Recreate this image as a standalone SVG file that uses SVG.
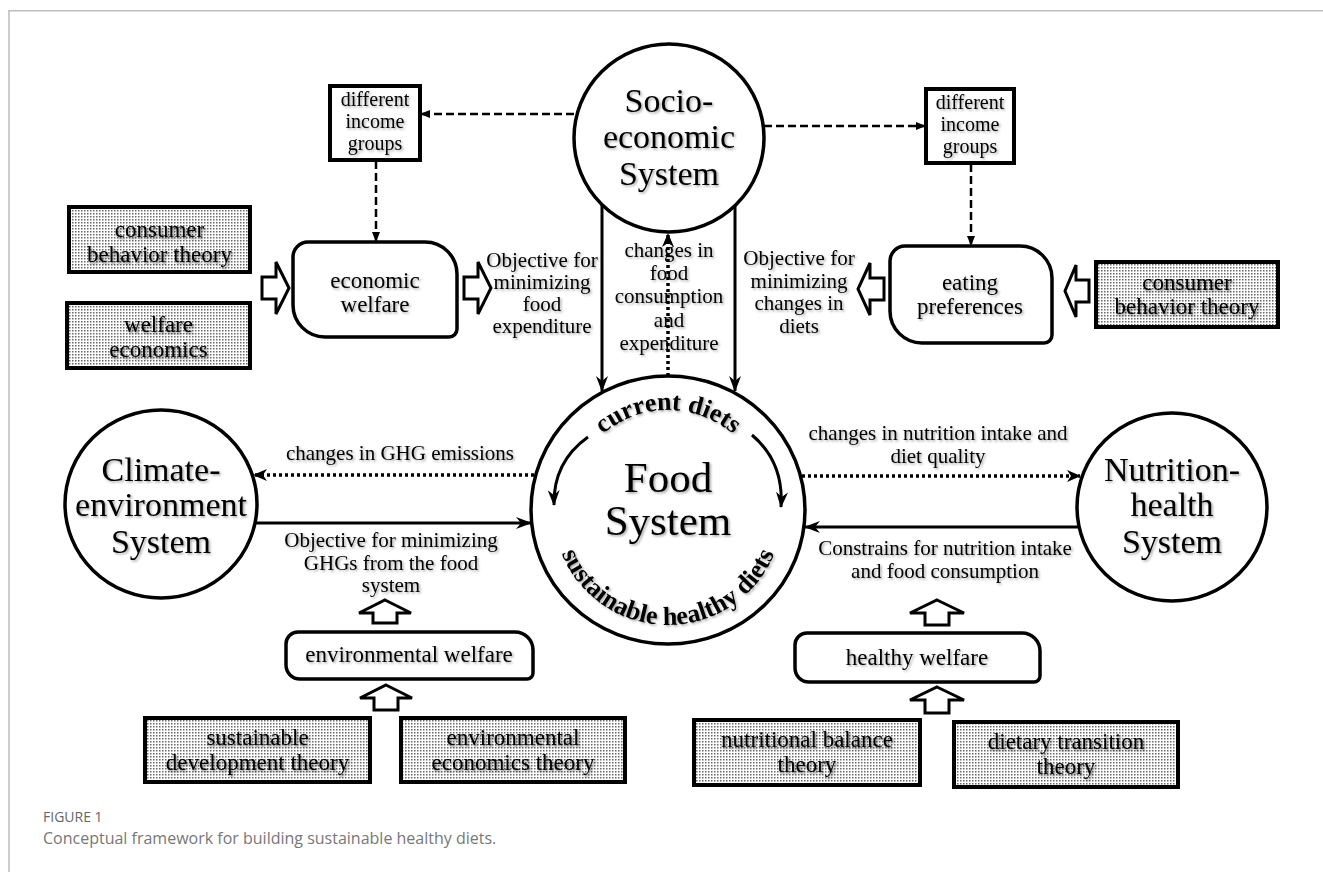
<svg xmlns="http://www.w3.org/2000/svg" width="1323" height="872" viewBox="0 0 1323 872">
<style>
.t{font-family:"Liberation Serif","Times New Roman",serif;fill:#000;text-anchor:middle;filter:url(#sh)}
.ts{font-family:"Liberation Serif","Times New Roman",serif;fill:#000;text-anchor:middle;filter:url(#sh2)}
.f20{font-size:20px}.f21{font-size:21px}.f23{font-size:23px}.f34{font-size:34px}.f43{font-size:43px}
.arc{font-family:"Liberation Serif","Times New Roman",serif;font-size:26px;font-weight:bold;fill:#000;text-anchor:middle;filter:url(#sh)}
.circ{fill:#fff;stroke:#000;stroke-width:3.5}
.box{fill:#fff;stroke:#000;stroke-width:3.5}
.shade{fill:url(#dots);stroke:#000;stroke-width:4}
.hol{fill:#fff;stroke:#000;stroke-width:3;stroke-linejoin:miter}
.solid{fill:none;stroke:#000;stroke-width:3;marker-end:url(#ah)}
.dash{fill:none;stroke:#000;stroke-width:2.5;stroke-dasharray:8 4;marker-end:url(#ahd)}
.dot{fill:none;stroke:#000;stroke-width:3.5;stroke-dasharray:3 3;marker-end:url(#aho)}
.cap{font-family:"Open Sans","Noto Sans",sans-serif}
</style>
<defs>
<pattern id="dots" width="3" height="3" patternUnits="userSpaceOnUse"><rect width="3" height="3" fill="#fff"/><rect width="1.5" height="1.5" fill="#666"/></pattern>
<filter id="sh" x="-10%" y="-20%" width="130%" height="150%"><feDropShadow dx="1.5" dy="1.5" stdDeviation="1.2" flood-color="#000" flood-opacity="0.35"/></filter>
<filter id="sh2" x="-10%" y="-20%" width="130%" height="150%"><feDropShadow dx="1.5" dy="2" stdDeviation="1.3" flood-color="#000" flood-opacity="0.55"/></filter>
<marker id="ah" markerWidth="16" markerHeight="12" refX="15" refY="6" orient="auto" markerUnits="userSpaceOnUse"><path d="M0,0 L16,6 L0,12 L5,6 z" fill="#000"/></marker>
<marker id="ahd" markerWidth="10" markerHeight="8" refX="9" refY="4" orient="auto" markerUnits="userSpaceOnUse"><path d="M0,0 L10,4 L0,8 z" fill="#000"/></marker>
<marker id="aho" markerWidth="14" markerHeight="12" refX="13" refY="6" orient="auto" markerUnits="userSpaceOnUse"><path d="M0,0 L14,6 L0,12 L4,6 z" fill="#000"/></marker>
<path id="topArc" d="M568,510 A100,100 0 0 1 768,510"/>
<path id="botArc" d="M553,510 A115,115 0 0 0 783,510"/>
</defs>
<rect width="1323" height="872" fill="#fff"/>
<path d="M9,872 V10.7 H1323" fill="none" stroke="#bdbdbd" stroke-width="1.5"/>

<g id="connectors">
<path class="dash" d="M574,114 L421,114"/>
<path class="dash" d="M764,126 L925,126"/>
<path class="dash" d="M376,161 L376,241"/>
<path class="dash" d="M971,164 L971,245"/>
<path class="solid" d="M602,205 L602,391"/>
<path class="solid" d="M735,205 L735,391"/>
<path class="dot" d="M668,376 L668,234"/>
<path class="dot" d="M534,475 L254,475"/>
<path class="solid" d="M255,523 L531,523"/>
<path class="dot" d="M802,476 L1080,476"/>
<path class="solid" d="M1079,527 L805,527"/>
<path class="hol" d="M262,277 L276,277 L276,262 L289,288 L276,314 L276,299 L262,299 Z"/>
<path class="hol" d="M464,277 L478,277 L478,262 L491,288 L478,314 L478,299 L464,299 Z"/>
<path class="hol" d="M884,278 L870,278 L870,263 L858,289 L870,315 L870,300 L884,300 Z"/>
<path class="hol" d="M1089,280 L1076,280 L1076,265 L1065,291 L1076,317 L1076,302 L1089,302 Z"/>
<path class="hol" d="M385,600 L411,613 L397,613 L397,623 L373,623 L373,613 L359,613 Z"/>
<path class="hol" d="M386,685 L412,698 L398,698 L398,710 L374,710 L374,698 L360,698 Z"/>
<path class="hol" d="M937,600 L964,613 L949,613 L949,625 L925,625 L925,613 L910,613 Z"/>
<path class="hol" d="M937,687 L964,700 L949,700 L949,713 L925,713 L925,700 L910,700 Z"/>
</g>
<g id="edge-labels">
<text class="t f21"><tspan x="542" y="267">Objective for</tspan><tspan x="542" y="289">minimizing</tspan><tspan x="542" y="311">food</tspan><tspan x="542" y="333">expenditure</tspan></text>
<text class="t f21"><tspan x="669" y="257">changes in</tspan><tspan x="669" y="280">food</tspan><tspan x="669" y="303">consumption</tspan><tspan x="669" y="327">and</tspan><tspan x="669" y="350">expenditure</tspan></text>
<text class="t f21"><tspan x="799" y="265">Objective for</tspan><tspan x="799" y="288">minimizing</tspan><tspan x="799" y="310">changes in</tspan><tspan x="799" y="333">diets</tspan></text>
<text class="t f21" x="400" y="460">changes in GHG emissions</text>
<text class="t f21"><tspan x="391" y="547">Objective for minimizing</tspan><tspan x="391" y="570">GHGs from the food</tspan><tspan x="391" y="592">system</tspan></text>
<text class="t f21"><tspan x="938" y="440">changes in nutrition intake and</tspan><tspan x="938" y="463">diet quality</tspan></text>
<text class="t f21"><tspan x="945" y="555">Constrains for nutrition intake</tspan><tspan x="945" y="578">and food consumption</tspan></text>
</g>

<g id="socio">
<ellipse class="circ" cx="669" cy="138" rx="95" ry="94"/>
<text class="t f34"><tspan x="669" y="112">Socio-</tspan><tspan x="669" y="148">economic</tspan><tspan x="669" y="185">System</tspan></text>
</g>
<g id="income-left">
<rect x="330" y="86" width="90" height="74" fill="#fff" stroke="#000" stroke-width="4"/>
<text class="t f20"><tspan x="375" y="106">different</tspan><tspan x="375" y="128">income</tspan><tspan x="375" y="150">groups</tspan></text>
</g>
<g id="income-right">
<rect x="926" y="89" width="88" height="74" fill="#fff" stroke="#000" stroke-width="4"/>
<text class="t f20"><tspan x="970" y="109">different</tspan><tspan x="970" y="131">income</tspan><tspan x="970" y="153">groups</tspan></text>
</g>
<g id="consumer-left">
<rect class="shade" x="69" y="207" width="181" height="65"/>
<text class="ts f23"><tspan x="159.5" y="237">consumer</tspan><tspan x="159.5" y="262">behavior theory</tspan></text>
</g>
<g id="welfare-economics">
<rect class="shade" x="67" y="303" width="183" height="65"/>
<text class="ts f23"><tspan x="158.5" y="332">welfare</tspan><tspan x="158.5" y="357">economics</tspan></text>
</g>
<g id="economic-welfare">
<path class="box" d="M308,242 H425 A32,32 0 0 1 457,274 V329 A8,8 0 0 1 449,337 H325 A32,32 0 0 1 293,305 V257 A15,15 0 0 1 308,242 Z"/>
<text class="t f23"><tspan x="375" y="288">economic</tspan><tspan x="375" y="312">welfare</tspan></text>
</g>
<g id="eating-preferences">
<path class="box" d="M905,246 H1020 A32,32 0 0 1 1052,278 V335 A8,8 0 0 1 1044,343 H922 A32,32 0 0 1 890,311 V261 A15,15 0 0 1 905,246 Z"/>
<text class="t f23"><tspan x="970" y="290">eating</tspan><tspan x="970" y="314">preferences</tspan></text>
</g>
<g id="consumer-right">
<rect class="shade" x="1096" y="262" width="182" height="65"/>
<text class="ts f23"><tspan x="1187" y="290">consumer</tspan><tspan x="1187" y="314">behavior theory</tspan></text>
</g>
<g id="food-system">
<ellipse class="circ" cx="668" cy="510" rx="137" ry="134"/>
<text class="t f43"><tspan x="668" y="492">Food</tspan><tspan x="668" y="535">System</tspan></text>
<text class="arc"><textPath href="#topArc" startOffset="50%">current diets</textPath></text>
<text class="arc"><textPath href="#botArc" startOffset="50%">sustainable healthy diets</textPath></text>
<path class="solid" d="M588,437 Q553,462 554,505"/>
<path class="solid" d="M752,435 Q784,462 781,507"/>
</g>
<g id="climate">
<ellipse class="circ" cx="161" cy="504" rx="96" ry="94"/>
<text class="t f34"><tspan x="161" y="481">Climate-</tspan><tspan x="161" y="516">environment</tspan><tspan x="161" y="553">System</tspan></text>
</g>
<g id="nutrition">
<ellipse class="circ" cx="1172" cy="507" rx="95" ry="94"/>
<text class="t f34"><tspan x="1172" y="481">Nutrition-</tspan><tspan x="1172" y="516">health</tspan><tspan x="1172" y="553">System</tspan></text>
</g>
<g id="environmental-welfare">
<path class="box" d="M298,632 H515 A18,18 0 0 1 533,650 V673 A6,6 0 0 1 527,679 H300 A14,14 0 0 1 286,665 V644 A12,12 0 0 1 298,632 Z"/>
<text class="t f23" x="409" y="662">environmental welfare</text>
</g>
<g id="healthy-welfare">
<path class="box" d="M807,633 H1022 A18,18 0 0 1 1040,651 V676 A6,6 0 0 1 1034,682 H809 A14,14 0 0 1 795,668 V645 A12,12 0 0 1 807,633 Z"/>
<text class="t f23" x="917" y="665">healthy welfare</text>
</g>
<g id="sustainable-development">
<rect class="shade" x="145" y="718" width="225" height="64"/>
<text class="ts f23"><tspan x="257.5" y="745">sustainable</tspan><tspan x="257.5" y="770">development theory</tspan></text>
</g>
<g id="environmental-economics">
<rect class="shade" x="401" y="718" width="224" height="64"/>
<text class="ts f23"><tspan x="513" y="745">environmental</tspan><tspan x="513" y="770">economics theory</tspan></text>
</g>
<g id="nutritional-balance">
<rect class="shade" x="694" y="720" width="226" height="65"/>
<text class="ts f23"><tspan x="807" y="747">nutritional balance</tspan><tspan x="807" y="772">theory</tspan></text>
</g>
<g id="dietary-transition">
<rect class="shade" x="954" y="722" width="224" height="65"/>
<text class="ts f23"><tspan x="1066" y="749">dietary transition</tspan><tspan x="1066" y="774">theory</tspan></text>
</g>
<g id="caption">
<text class="cap" x="43" y="822" font-size="14" fill="#666">FIGURE 1</text>
<text class="cap" x="43" y="844" font-size="16" fill="#777">Conceptual framework for building sustainable healthy diets.</text>
</g>
</svg>
